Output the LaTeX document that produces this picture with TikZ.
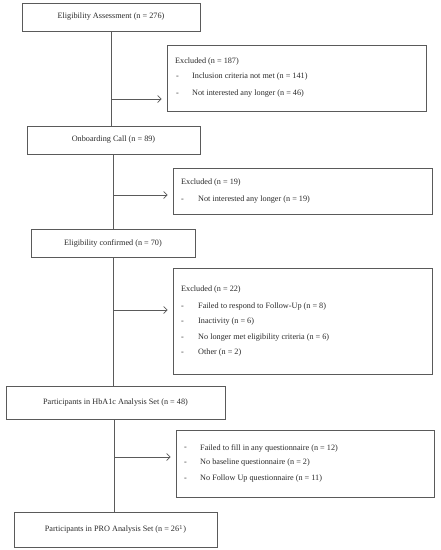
\documentclass[tikz,border=0pt]{standalone}
\usepackage{fontspec}
\setmainfont{Liberation Serif}
\usetikzlibrary{arrows.meta}
\definecolor{linec}{HTML}{5A5A5A}
\definecolor{textc}{HTML}{2A2A2A}
\begin{document}
\begin{tikzpicture}[x=1pt,y=-1pt,
  box/.style={draw=linec,line width=0.7pt,inner sep=0pt,text=textc,font=\fontsize{8.2}{10}\selectfont},
  txt/.style={anchor=west,inner sep=0pt,text=textc,font=\fontsize{8.2}{10}\selectfont},
  conn/.style={draw=linec,line width=0.7pt},
  arr/.style={conn,-{Straight Barb[length=3.5pt,width=7pt]},shorten >=5pt}]
\useasboundingbox (0,0) rectangle (440,550);
% main boxes
\node[box,minimum width=178pt,minimum height=28pt] (b1) at (111,17) {Eligibility Assessment (n = 276)};
\node[box,minimum width=173pt,minimum height=28pt] (b2) at (113.5,140) {Onboarding Call (n = 89)};
\node[box,minimum width=164pt,minimum height=28pt] (b3) at (113,243) {Eligibility confirmed (n = 70)};
\node[box,minimum width=219pt,minimum height=33pt] (b4) at (115.5,402.5) {Participants in HbA1c Analysis Set (n = 48)};
\node[box,minimum width=203pt,minimum height=35pt] (b5) at (115.5,529.5) {Participants in PRO Analysis Set (n = 26$^{1}$)};
% exclusion boxes
\node[box,minimum width=259pt,minimum height=66pt] (e1) at (296.5,78) {};
\node[box,minimum width=259pt,minimum height=46pt] (e2) at (302.5,191) {};
\node[box,minimum width=259pt,minimum height=106pt] (e3) at (302.5,321) {};
\node[box,minimum width=258pt,minimum height=67pt] (e4) at (305,463.5) {};
% texts box 1
\node[txt] (e1h) at (175,62) {Excluded (n = 187)};
\node[txt] (e1d1) at (176,77) {-};
\node[txt] (e1t1) at (192,77) {Inclusion criteria not met (n = 141)};
\node[txt] (e1d2) at (176,94) {-};
\node[txt] (e1t2) at (192,94) {Not interested any longer (n = 46)};
% texts box 2
\node[txt] (e2h) at (181,183) {Excluded (n = 19)};
\node[txt] (e2d1) at (181,200) {-};
\node[txt] (e2t1) at (198,200) {Not interested any longer (n = 19)};
% texts box 3
\node[txt] (e3h) at (181,290) {Excluded (n = 22)};
\node[txt] (e3d1) at (181,307) {-};
\node[txt] (e3t1) at (198,307) {Failed to respond to Follow-Up (n = 8)};
\node[txt] (e3d2) at (181,322) {-};
\node[txt] (e3t2) at (198,322) {Inactivity (n = 6)};
\node[txt] (e3d3) at (181,338) {-};
\node[txt] (e3t3) at (198,338) {No longer met eligibility criteria (n = 6)};
\node[txt] (e3d4) at (181,353) {-};
\node[txt] (e3t4) at (198,353) {Other (n = 2)};
% texts box 4
\node[txt] (e4d1) at (184,448) {-};
\node[txt] (e4t1) at (200,448) {Failed to fill in any questionnaire (n = 12)};
\node[txt] (e4d2) at (184,463) {-};
\node[txt] (e4t2) at (200,463) {No baseline questionnaire (n = 2)};
\node[txt] (e4d3) at (184,479) {-};
\node[txt] (e4t3) at (200,479) {No Follow Up questionnaire (n = 11)};
% vertical connectors
\draw[conn] (b1.south) -- (b1.south |- b2.north);
\draw[conn] (b2.south) -- (b2.south |- b3.north);
\draw[conn] ([xshift=0.5pt]b3.south) -- ([xshift=0.5pt]b3.south |- b4.north);
\draw[conn] ([xshift=-1pt]b4.south) -- ([xshift=-1pt]b4.south |- b5.north);
% branch points
\coordinate (c1) at (111,99);
\coordinate (c2) at (113.5,195);
\coordinate (c3) at (113.5,310);
\coordinate (c4) at (114.5,457);
\draw[arr] (c1) -- (c1 -| e1.west);
\draw[arr] (c2) -- (c2 -| e2.west);
\draw[arr] (c3) -- (c3 -| e3.west);
\draw[arr] (c4) -- (c4 -| e4.west);
\end{tikzpicture}
\end{document}
